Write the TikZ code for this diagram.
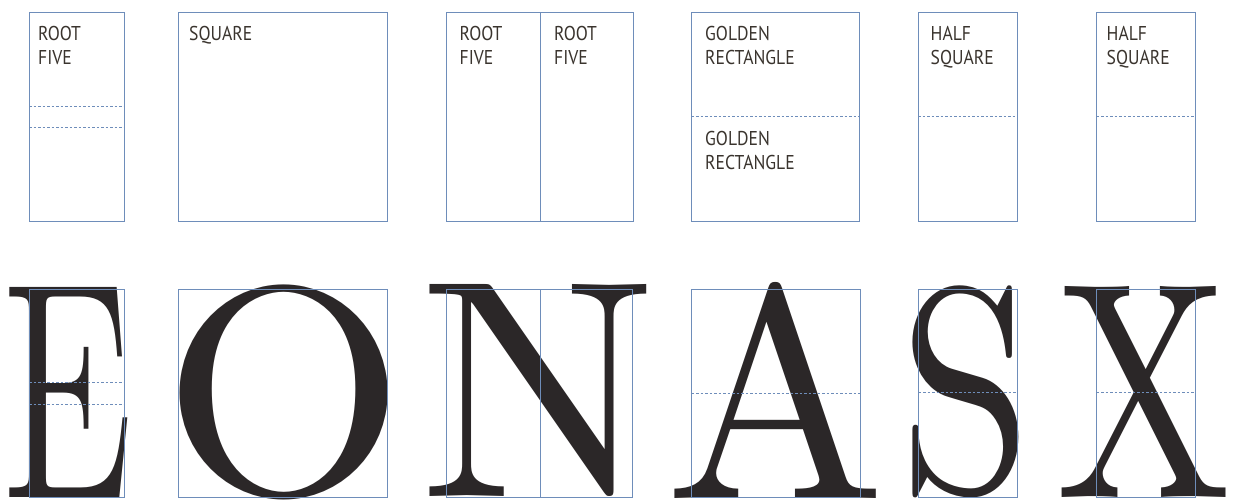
\documentclass[tikz,border=0pt]{standalone}
\usepackage{fontspec}
\usepackage{graphicx}
\newfontfamily\labelfont[FakeStretch=0.88]{PT Sans}
\newcommand\glyphfont{\rmfamily}
\definecolor{gridblue}{HTML}{6E8DBA}
\definecolor{inkdark}{HTML}{2B2728}
\definecolor{labelcol}{HTML}{3A342E}
\newcommand\bigglyph[3]{\resizebox*{#1pt}{#2pt}{\glyphfont #3}}
\begin{document}
\begin{tikzpicture}[x=1pt,y=-1pt,
  frame/.style={draw=gridblue,line width=0.8pt},
  guide/.style={draw=gridblue,line width=0.8pt,dash pattern=on 2.5pt off 2pt},
  lbl/.style={anchor=north west,inner sep=0pt,align=left,text=labelcol,
    font=\labelfont\fontsize{20}{23.5}\selectfont},
  glyph/.style={anchor=south west,inner sep=0pt,text=inkdark}]
\useasboundingbox[fill=white] (0,0) rectangle (1237,499);
% ---------- big letters ----------
\node[glyph] (E) at (3.7,498) {\bigglyph{129.6}{210}{E}};
\node[glyph] (O) at (162.5,500) {\bigglyph{243}{215}{O}};
\node[glyph] (N) at (419.5,497) {\bigglyph{238}{212}{N}};
\node[glyph] (A) at (664.8,499) {\bigglyph{220.5}{216}{A}};
\node[glyph] (S) at (899.6,498) {\bigglyph{132.7}{212}{S}};
\node[glyph] (X) at (1055.9,498) {\bigglyph{175.1}{211}{X}};
% ---------- top row frames ----------
\draw[frame] (29,12) rectangle (124,221);
\draw[guide] (29,106) -- (124,106);
\draw[guide] (29,127) -- (124,127);
\draw[frame] (178,12) rectangle (387,221);
\draw[frame] (446.7,12) rectangle (633,221);
\draw[frame] (540,12) -- (540,221);
\draw[frame] (691.7,12) rectangle (859.7,221);
\draw[guide] (691.7,116.7) -- (859.7,116.7);
\draw[frame] (918,12) rectangle (1017,221);
\draw[guide] (918,116) -- (1017,116);
\draw[frame] (1096.7,12) rectangle (1195,221);
\draw[guide] (1096.7,116) -- (1195,116);
% ---------- top row labels ----------
\node[lbl] (l1) at (38,26.5) {ROOT\\FIVE};
\node[lbl] (l2) at (189,26.5) {SQUARE};
\node[lbl] (l3) at (459.5,26.5) {ROOT\\FIVE};
\node[lbl] (l4) at (554,26.5) {ROOT\\FIVE};
\node[lbl] (l5) at (705,26.5) {GOLDEN\\RECTANGLE};
\node[lbl] (l6) at (705,131.5) {GOLDEN\\RECTANGLE};
\node[lbl] (l7) at (930.5,26.5) {HALF\\SQUARE};
\node[lbl] (l8) at (1106.5,26.5) {HALF\\SQUARE};
% ---------- bottom row frames ----------
\draw[frame] (29,289) rectangle (124,497.7);
\draw[guide] (29,382.7) -- (124,382.7);
\draw[guide] (29,404.3) -- (124,404.3);
\draw[frame] (178,289) rectangle (387,497.7);
\draw[frame] (446.7,289) rectangle (632.7,497.7);
\draw[frame] (540,289) -- (540,497.7);
\draw[frame] (691.7,289) rectangle (860,497.7);
\draw[guide] (691.7,393.3) -- (860,393.3);
\draw[frame] (918.7,289) rectangle (1017,497.7);
\draw[guide] (918.7,392.3) -- (1017,392.3);
\draw[frame] (1096.7,289) rectangle (1195,497.7);
\draw[guide] (1096.7,392.3) -- (1195,392.3);
\end{tikzpicture}
\end{document}
